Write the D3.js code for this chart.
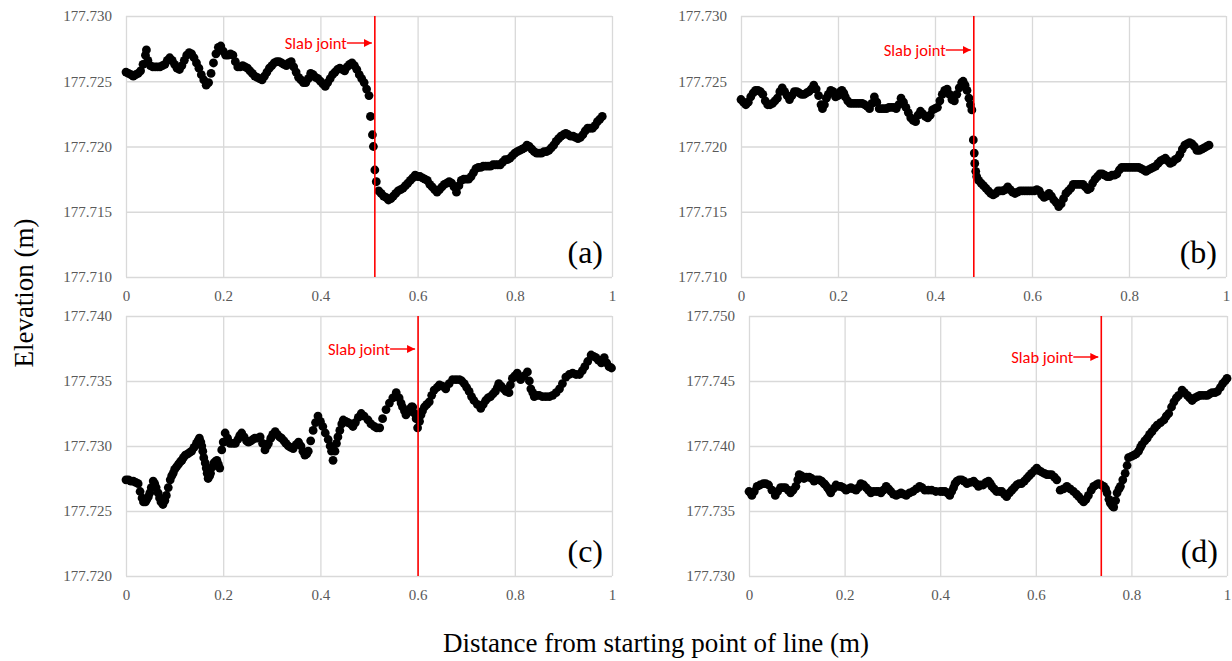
<!DOCTYPE html>
<html>
<head>
<meta charset="utf-8">
<script src="https://cdn.jsdelivr.net/npm/d3@7"></script>
<style>
	body { margin: 0; background: #fff; }
	svg { display: block; }
</style>
</head>
<body>
<div id="chart"></div>
<script>
// profile data: [distance (m), elevation (m)]
var profileA = [
	[0.000,177.7257],[0.005,177.7256],[0.010,177.7255],[0.015,177.7254],[0.020,177.7255],[0.025,177.7256],
	[0.030,177.7258],[0.035,177.7263],[0.040,177.7270],[0.042,177.7274],[0.045,177.7266],[0.050,177.7262],
	[0.055,177.7261],[0.060,177.7261],[0.065,177.7261],[0.070,177.7261],[0.075,177.7262],[0.080,177.7263],
	[0.085,177.7266],[0.090,177.7268],[0.095,177.7266],[0.100,177.7263],[0.105,177.7260],[0.110,177.7259],
	[0.115,177.7262],[0.120,177.7266],[0.125,177.7270],[0.130,177.7272],[0.135,177.7271],[0.140,177.7268],
	[0.145,177.7264],[0.150,177.7260],[0.155,177.7255],[0.160,177.7251],[0.165,177.7247],[0.170,177.7249],
	[0.175,177.7256],[0.180,177.7264],[0.185,177.7271],[0.190,177.7276],[0.195,177.7277],[0.200,177.7273],
	[0.205,177.7270],[0.210,177.7270],[0.215,177.7271],[0.220,177.7270],[0.225,177.7265],[0.230,177.7261],
	[0.235,177.7261],[0.240,177.7262],[0.245,177.7261],[0.250,177.7260],[0.255,177.7258],[0.260,177.7256],
	[0.265,177.7254],[0.270,177.7253],[0.275,177.7252],[0.280,177.7251],[0.285,177.7254],[0.290,177.7257],
	[0.295,177.7260],[0.300,177.7262],[0.305,177.7264],[0.310,177.7265],[0.315,177.7265],[0.320,177.7264],
	[0.325,177.7263],[0.330,177.7262],[0.335,177.7264],[0.340,177.7265],[0.345,177.7261],[0.350,177.7257],
	[0.355,177.7253],[0.360,177.7251],[0.365,177.7249],[0.370,177.7249],[0.375,177.7252],[0.380,177.7256],
	[0.385,177.7255],[0.390,177.7253],[0.395,177.7252],[0.400,177.7250],[0.405,177.7248],[0.410,177.7246],
	[0.415,177.7249],[0.420,177.7252],[0.425,177.7255],[0.430,177.7257],[0.435,177.7259],[0.440,177.7260],
	[0.445,177.7259],[0.450,177.7258],[0.455,177.7261],[0.460,177.7263],[0.465,177.7264],[0.470,177.7262],
	[0.475,177.7259],[0.480,177.7255],[0.485,177.7252],[0.490,177.7249],[0.495,177.7244],[0.500,177.7239],
	[0.503,177.7223],[0.507,177.7209],[0.509,177.7200],[0.512,177.7182],[0.515,177.7173],[0.520,177.7166],
	[0.525,177.7164],[0.530,177.7162],[0.535,177.7161],[0.540,177.7159],[0.545,177.7160],[0.550,177.7162],
	[0.555,177.7164],[0.560,177.7166],[0.565,177.7167],[0.570,177.7168],[0.575,177.7170],[0.580,177.7172],
	[0.585,177.7174],[0.590,177.7176],[0.595,177.7178],[0.600,177.7177],[0.605,177.7177],[0.610,177.7176],
	[0.615,177.7175],[0.620,177.7174],[0.625,177.7171],[0.630,177.7169],[0.635,177.7167],[0.640,177.7165],
	[0.645,177.7167],[0.650,177.7169],[0.655,177.7171],[0.660,177.7172],[0.665,177.7173],[0.670,177.7172],
	[0.675,177.7169],[0.680,177.7165],[0.685,177.7170],[0.690,177.7174],[0.695,177.7175],[0.700,177.7175],
	[0.705,177.7175],[0.710,177.7177],[0.715,177.7180],[0.720,177.7183],[0.725,177.7184],[0.730,177.7184],
	[0.735,177.7185],[0.740,177.7185],[0.745,177.7185],[0.750,177.7185],[0.755,177.7186],[0.760,177.7186],
	[0.765,177.7186],[0.770,177.7186],[0.775,177.7188],[0.780,177.7190],[0.785,177.7190],[0.790,177.7191],
	[0.795,177.7193],[0.800,177.7195],[0.805,177.7196],[0.810,177.7197],[0.815,177.7198],[0.820,177.7199],
	[0.825,177.7201],[0.830,177.7200],[0.835,177.7198],[0.840,177.7196],[0.845,177.7195],[0.850,177.7195],
	[0.855,177.7195],[0.860,177.7196],[0.865,177.7196],[0.870,177.7197],[0.875,177.7199],[0.880,177.7201],
	[0.885,177.7204],[0.890,177.7206],[0.895,177.7208],[0.900,177.7209],[0.905,177.7210],[0.910,177.7209],
	[0.915,177.7208],[0.920,177.7208],[0.925,177.7207],[0.930,177.7206],[0.935,177.7207],[0.940,177.7209],
	[0.945,177.7212],[0.950,177.7214],[0.955,177.7214],[0.960,177.7214],[0.965,177.7216],[0.970,177.7219],
	[0.975,177.7221],[0.980,177.7223]
];

var profileB = [
	[0.000,177.7236],[0.005,177.7234],[0.010,177.7232],[0.015,177.7234],[0.020,177.7238],[0.025,177.7241],
	[0.030,177.7243],[0.035,177.7243],[0.040,177.7242],[0.045,177.7240],[0.050,177.7235],[0.055,177.7232],
	[0.060,177.7232],[0.065,177.7233],[0.070,177.7235],[0.075,177.7237],[0.080,177.7242],[0.085,177.7245],
	[0.090,177.7242],[0.095,177.7239],[0.100,177.7236],[0.105,177.7239],[0.110,177.7242],[0.115,177.7242],
	[0.120,177.7241],[0.125,177.7240],[0.130,177.7240],[0.135,177.7241],[0.140,177.7242],[0.145,177.7244],
	[0.150,177.7247],[0.155,177.7244],[0.160,177.7239],[0.165,177.7232],[0.168,177.7229],[0.172,177.7232],
	[0.176,177.7237],[0.180,177.7240],[0.185,177.7243],[0.190,177.7242],[0.195,177.7238],[0.200,177.7239],
	[0.205,177.7242],[0.208,177.7243],[0.212,177.7241],[0.215,177.7238],[0.220,177.7235],[0.225,177.7233],
	[0.230,177.7233],[0.235,177.7233],[0.240,177.7233],[0.245,177.7233],[0.250,177.7233],[0.255,177.7232],
	[0.260,177.7231],[0.265,177.7229],[0.270,177.7233],[0.275,177.7238],[0.280,177.7234],[0.285,177.7229],
	[0.290,177.7229],[0.295,177.7229],[0.300,177.7229],[0.305,177.7230],[0.310,177.7230],[0.315,177.7230],
	[0.320,177.7229],[0.325,177.7232],[0.330,177.7237],[0.335,177.7234],[0.340,177.7230],[0.345,177.7226],
	[0.350,177.7222],[0.355,177.7220],[0.360,177.7219],[0.365,177.7224],[0.370,177.7227],[0.375,177.7225],
	[0.380,177.7223],[0.385,177.7222],[0.390,177.7224],[0.395,177.7228],[0.400,177.7229],[0.405,177.7230],
	[0.410,177.7235],[0.415,177.7240],[0.420,177.7243],[0.425,177.7244],[0.430,177.7240],[0.435,177.7236],
	[0.440,177.7235],[0.445,177.7240],[0.450,177.7245],[0.455,177.7249],[0.458,177.7250],[0.462,177.7247],
	[0.466,177.7243],[0.470,177.7237],[0.473,177.7232],[0.476,177.7228],[0.479,177.7205],[0.481,177.7195],
	[0.482,177.7187],[0.484,177.7181],[0.486,177.7177],[0.490,177.7174],[0.495,177.7172],[0.500,177.7170],
	[0.505,177.7168],[0.510,177.7166],[0.515,177.7164],[0.520,177.7163],[0.525,177.7164],[0.530,177.7166],
	[0.535,177.7166],[0.540,177.7166],[0.545,177.7167],[0.550,177.7169],[0.555,177.7167],[0.560,177.7165],
	[0.565,177.7164],[0.570,177.7165],[0.575,177.7166],[0.580,177.7166],[0.585,177.7166],[0.590,177.7166],
	[0.595,177.7166],[0.600,177.7166],[0.605,177.7166],[0.610,177.7167],[0.615,177.7166],[0.620,177.7163],
	[0.625,177.7161],[0.630,177.7162],[0.635,177.7164],[0.640,177.7162],[0.645,177.7159],[0.650,177.7157],
	[0.655,177.7154],[0.660,177.7156],[0.665,177.7160],[0.670,177.7164],[0.675,177.7166],[0.680,177.7168],
	[0.685,177.7171],[0.690,177.7171],[0.695,177.7171],[0.700,177.7171],[0.705,177.7171],[0.710,177.7169],
	[0.715,177.7167],[0.720,177.7168],[0.725,177.7172],[0.730,177.7175],[0.735,177.7177],[0.740,177.7179],
	[0.745,177.7179],[0.750,177.7178],[0.755,177.7177],[0.760,177.7177],[0.765,177.7178],[0.770,177.7178],
	[0.775,177.7179],[0.780,177.7182],[0.785,177.7184],[0.790,177.7184],[0.795,177.7184],[0.800,177.7184],
	[0.805,177.7184],[0.810,177.7184],[0.815,177.7184],[0.820,177.7184],[0.825,177.7183],[0.830,177.7182],
	[0.835,177.7181],[0.840,177.7182],[0.845,177.7183],[0.850,177.7184],[0.855,177.7185],[0.860,177.7187],
	[0.865,177.7189],[0.870,177.7190],[0.875,177.7191],[0.880,177.7189],[0.885,177.7187],[0.890,177.7188],
	[0.895,177.7190],[0.900,177.7191],[0.905,177.7194],[0.910,177.7198],[0.915,177.7201],[0.920,177.7202],
	[0.925,177.7203],[0.930,177.7202],[0.935,177.7200],[0.940,177.7197],[0.945,177.7197],[0.950,177.7198],
	[0.955,177.7199],[0.960,177.7200],[0.965,177.7201]
];

var profileC = [
	[0.000,177.7274],[0.005,177.7274],[0.010,177.7273],[0.015,177.7273],[0.020,177.7272],[0.025,177.7271],
	[0.029,177.7265],[0.033,177.7260],[0.036,177.7257],[0.040,177.7257],[0.043,177.7259],[0.046,177.7261],
	[0.049,177.7264],[0.052,177.7268],[0.056,177.7273],[0.059,177.7271],[0.062,177.7268],[0.066,177.7264],
	[0.069,177.7260],[0.072,177.7257],[0.076,177.7255],[0.080,177.7258],[0.083,177.7262],[0.087,177.7268],
	[0.091,177.7274],[0.094,177.7277],[0.097,177.7279],[0.100,177.7282],[0.104,177.7284],[0.108,177.7286],
	[0.112,177.7288],[0.115,177.7289],[0.118,177.7291],[0.122,177.7293],[0.127,177.7294],[0.131,177.7295],
	[0.135,177.7296],[0.140,177.7299],[0.145,177.7302],[0.148,177.7304],[0.151,177.7306],[0.154,177.7303],
	[0.156,177.7300],[0.158,177.7296],[0.160,177.7291],[0.163,177.7287],[0.165,177.7283],[0.167,177.7279],
	[0.169,177.7275],[0.172,177.7277],[0.174,177.7279],[0.178,177.7284],[0.181,177.7287],[0.184,177.7288],
	[0.187,177.7289],[0.190,177.7286],[0.193,177.7283],[0.197,177.7297],[0.200,177.7303],[0.204,177.7310],
	[0.209,177.7306],[0.214,177.7302],[0.220,177.7302],[0.225,177.7302],[0.230,177.7305],[0.234,177.7308],
	[0.238,177.7310],[0.243,177.7307],[0.248,177.7304],[0.252,177.7303],[0.257,177.7304],[0.261,177.7305],
	[0.265,177.7306],[0.270,177.7306],[0.276,177.7307],[0.281,177.7302],[0.286,177.7297],[0.290,177.7300],
	[0.293,177.7302],[0.298,177.7306],[0.302,177.7309],[0.307,177.7311],[0.311,177.7309],[0.316,177.7307],
	[0.320,177.7306],[0.325,177.7304],[0.329,177.7302],[0.334,177.7300],[0.339,177.7299],[0.344,177.7298],
	[0.350,177.7301],[0.355,177.7303],[0.360,177.7300],[0.364,177.7296],[0.368,177.7293],[0.372,177.7294],
	[0.375,177.7296],[0.380,177.7304],[0.385,177.7312],[0.390,177.7318],[0.395,177.7323],[0.400,177.7319],
	[0.405,177.7315],[0.410,177.7310],[0.416,177.7305],[0.420,177.7300],[0.423,177.7296],[0.426,177.7289],
	[0.430,177.7296],[0.433,177.7302],[0.436,177.7307],[0.440,177.7312],[0.444,177.7317],[0.447,177.7320],
	[0.452,177.7319],[0.457,177.7318],[0.462,177.7317],[0.467,177.7315],[0.472,177.7318],[0.478,177.7322],
	[0.484,177.7325],[0.490,177.7323],[0.498,177.7320],[0.504,177.7317],[0.511,177.7315],[0.516,177.7314],
	[0.522,177.7314],[0.528,177.7321],[0.535,177.7328],[0.542,177.7333],[0.549,177.7337],[0.556,177.7341],
	[0.562,177.7337],[0.566,177.7333],[0.569,177.7330],[0.573,177.7327],[0.576,177.7324],[0.580,177.7326],
	[0.583,177.7328],[0.587,177.7330],[0.590,177.7330],[0.594,177.7325],[0.597,177.7321],[0.600,177.7314],
	[0.604,177.7319],[0.607,177.7324],[0.610,177.7327],[0.614,177.7330],[0.619,177.7332],[0.624,177.7334],
	[0.629,177.7339],[0.634,177.7343],[0.640,177.7345],[0.645,177.7347],[0.651,177.7346],[0.658,177.7344],
	[0.665,177.7348],[0.672,177.7351],[0.679,177.7351],[0.686,177.7351],[0.691,177.7350],[0.696,177.7348],
	[0.701,177.7345],[0.706,177.7342],[0.711,177.7338],[0.716,177.7335],[0.723,177.7332],[0.730,177.7329],
	[0.735,177.7332],[0.740,177.7335],[0.745,177.7337],[0.750,177.7338],[0.755,177.7340],[0.760,177.7342],
	[0.764,177.7345],[0.767,177.7348],[0.772,177.7346],[0.777,177.7344],[0.782,177.7342],[0.788,177.7341],
	[0.791,177.7347],[0.795,177.7352],[0.800,177.7354],[0.805,177.7356],[0.809,177.7353],[0.812,177.7351],
	[0.819,177.7354],[0.826,177.7357],[0.830,177.7350],[0.833,177.7344],[0.837,177.7341],[0.840,177.7338],
	[0.845,177.7339],[0.850,177.7339],[0.857,177.7338],[0.864,177.7338],[0.871,177.7338],[0.878,177.7339],
	[0.885,177.7341],[0.892,177.7344],[0.898,177.7348],[0.905,177.7353],[0.912,177.7355],[0.919,177.7356],
	[0.926,177.7355],[0.933,177.7355],[0.939,177.7358],[0.944,177.7361],[0.950,177.7365],[0.957,177.7370],
	[0.962,177.7369],[0.967,177.7368],[0.972,177.7366],[0.978,177.7364],[0.981,177.7366],[0.984,177.7368],
	[0.989,177.7364],[0.994,177.7361],[0.999,177.7360]
];

var profileD = [
	[0.000,177.7365],[0.003,177.7364],[0.006,177.7362],[0.011,177.7365],[0.017,177.7369],[0.023,177.7370],
	[0.030,177.7371],[0.035,177.7371],[0.041,177.7370],[0.048,177.7366],[0.055,177.7362],[0.060,177.7365],
	[0.066,177.7368],[0.071,177.7368],[0.076,177.7368],[0.082,177.7366],[0.087,177.7364],[0.092,177.7366],
	[0.098,177.7369],[0.102,177.7374],[0.105,177.7378],[0.110,177.7377],[0.115,177.7375],[0.120,177.7376],
	[0.126,177.7376],[0.131,177.7375],[0.136,177.7373],[0.141,177.7374],[0.147,177.7374],[0.152,177.7373],
	[0.157,177.7371],[0.160,177.7370],[0.164,177.7368],[0.168,177.7366],[0.171,177.7364],[0.176,177.7367],
	[0.182,177.7370],[0.187,177.7369],[0.192,177.7369],[0.197,177.7368],[0.203,177.7366],[0.208,177.7367],
	[0.213,177.7368],[0.218,177.7367],[0.224,177.7366],[0.229,177.7368],[0.234,177.7371],[0.240,177.7370],
	[0.245,177.7368],[0.250,177.7366],[0.255,177.7364],[0.260,177.7365],[0.266,177.7365],[0.271,177.7365],
	[0.276,177.7364],[0.281,177.7366],[0.287,177.7369],[0.292,177.7367],[0.297,177.7365],[0.302,177.7363],
	[0.308,177.7362],[0.313,177.7363],[0.318,177.7364],[0.323,177.7363],[0.329,177.7362],[0.336,177.7364],
	[0.343,177.7365],[0.350,177.7367],[0.357,177.7369],[0.362,177.7368],[0.368,177.7366],[0.375,177.7366],
	[0.382,177.7366],[0.391,177.7365],[0.400,177.7365],[0.405,177.7365],[0.410,177.7365],[0.415,177.7364],
	[0.420,177.7362],[0.424,177.7365],[0.428,177.7368],[0.431,177.7371],[0.435,177.7373],[0.440,177.7374],
	[0.445,177.7374],[0.450,177.7373],[0.456,177.7371],[0.463,177.7372],[0.470,177.7373],[0.475,177.7371],
	[0.480,177.7369],[0.485,177.7370],[0.490,177.7370],[0.496,177.7372],[0.501,177.7373],[0.505,177.7371],
	[0.508,177.7369],[0.513,177.7367],[0.518,177.7365],[0.524,177.7365],[0.529,177.7365],[0.534,177.7363],
	[0.539,177.7361],[0.545,177.7364],[0.550,177.7366],[0.555,177.7368],[0.560,177.7370],[0.565,177.7371],
	[0.570,177.7371],[0.576,177.7373],[0.581,177.7375],[0.586,177.7377],[0.591,177.7379],[0.597,177.7381],
	[0.602,177.7383],[0.607,177.7381],[0.612,177.7380],[0.618,177.7379],[0.623,177.7378],[0.628,177.7378],
	[0.633,177.7378],[0.639,177.7376],[0.644,177.7374],[0.651,177.7366],[0.658,177.7367],[0.665,177.7369],
	[0.672,177.7367],[0.679,177.7365],[0.685,177.7363],[0.690,177.7361],[0.695,177.7359],[0.700,177.7357],
	[0.705,177.7359],[0.710,177.7362],[0.716,177.7366],[0.721,177.7369],[0.726,177.7370],[0.731,177.7371],
	[0.737,177.7370],[0.742,177.7369],[0.746,177.7367],[0.749,177.7364],[0.753,177.7359],[0.756,177.7356],
	[0.760,177.7354],[0.763,177.7353],[0.767,177.7358],[0.770,177.7364],[0.774,177.7367],[0.777,177.7369],
	[0.782,177.7374],[0.787,177.7379],[0.791,177.7385],[0.794,177.7391],[0.800,177.7392],[0.805,177.7393],
	[0.810,177.7394],[0.815,177.7396],[0.819,177.7399],[0.822,177.7401],[0.828,177.7404],[0.833,177.7406],
	[0.838,177.7409],[0.843,177.7411],[0.849,177.7414],[0.854,177.7416],[0.861,177.7418],[0.868,177.7420],
	[0.873,177.7423],[0.878,177.7425],[0.884,177.7430],[0.889,177.7434],[0.894,177.7437],[0.899,177.7439],
	[0.906,177.7443],[0.911,177.7441],[0.917,177.7439],[0.922,177.7437],[0.927,177.7435],[0.933,177.7437],
	[0.938,177.7438],[0.943,177.7439],[0.948,177.7439],[0.954,177.7439],[0.959,177.7439],[0.964,177.7440],
	[0.969,177.7441],[0.975,177.7441],[0.980,177.7442],[0.986,177.7445],[0.991,177.7448],[0.996,177.7450],
	[1.000,177.7452]
];

// slab joint positions (m)
var jointX = [0.512, 0.480, 0.601, 0.737];

var xTicks = [0, 0.2, 0.4, 0.6, 0.8, 1];
var yTicksA = [177.710, 177.715, 177.720, 177.725, 177.730];
var yTicksB = [177.710, 177.715, 177.720, 177.725, 177.730];
var yTicksC = [177.720, 177.725, 177.730, 177.735, 177.740];
var yTicksD = [177.730, 177.735, 177.740, 177.745, 177.750];

var panelLabels = ["(a)", "(b)", "(c)", "(d)"];

var width = 1232;
var height = 661;

var gridColor = "#d9d9d9";
var serif = "'Liberation Serif', 'Times New Roman', Times, serif";

// panel boxes in page pixels
var panels = [
	{ left: 126, top: 16,  w: 486, h: 261, data: profileA, yTicks: yTicksA, joint: jointX[0], label: panelLabels[0], note: 27 },
	{ left: 741, top: 16,  w: 485, h: 261, data: profileB, yTicks: yTicksB, joint: jointX[1], label: panelLabels[1], note: 34 },
	{ left: 126, top: 316, w: 486, h: 260, data: profileC, yTicks: yTicksC, joint: jointX[2], label: panelLabels[2], note: 33 },
	{ left: 749, top: 316, w: 478, h: 260, data: profileD, yTicks: yTicksD, joint: jointX[3], label: panelLabels[3], note: 41 }
];

var svg = d3.select("#chart").append("svg")
	.attr("width", width)
	.attr("height", height);

svg.append("defs").append("marker")
	.attr("id", "arrow")
	.attr("viewBox", "0 0 10 10")
	.attr("refX", 10)
	.attr("refY", 5)
	.attr("markerWidth", 8)
	.attr("markerHeight", 8)
	.attr("markerUnits", "userSpaceOnUse")
	.attr("orient", "auto")
	.append("path")
	.attr("d", "M0,0L10,5L0,10Z")
	.attr("fill", "#ff0000");

panels.forEach(function(p) {
	var g = svg.append("g")
		.attr("transform", `translate(${p.left},${p.top})`);

	var x = d3.scaleLinear([0, 1], [0, p.w]);
	var y = d3.scaleLinear(d3.extent(p.yTicks), [p.h, 0]);

	// vertical grid + x labels
	var xAxis = g.append("g")
		.attr("transform", `translate(0,${p.h})`)
		.call(d3.axisBottom(x)
			.tickValues(xTicks)
			.tickFormat(d3.format(""))
			.tickSizeInner(-p.h)
			.tickSizeOuter(0)
			.tickPadding(13));
	xAxis.select(".domain").remove();

	// horizontal grid + y labels
	var yAxis = g.append("g")
		.call(d3.axisLeft(y)
			.tickValues(p.yTicks)
			.tickFormat(d3.format(".3f"))
			.tickSizeInner(-p.w)
			.tickSizeOuter(0)
			.tickPadding(14));
	yAxis.select(".domain").remove();

	g.selectAll(".tick line")
		.attr("stroke", gridColor)
		.attr("stroke-width", 1.3);
	g.selectAll(".tick text")
		.attr("fill", "#595959")
		.style("font", `15px ${serif}`);

	// points
	g.append("g")
		.selectAll("circle")
		.data(p.data)
		.join("circle")
		.attr("cx", d => x(d[0]))
		.attr("cy", d => y(d[1]))
		.attr("r", 4.4)
		.attr("fill", "#000");

	// slab joint line
	var jx = x(p.joint);
	g.append("line")
		.attr("x1", jx).attr("x2", jx)
		.attr("y1", 0).attr("y2", p.h)
		.attr("stroke", "#ff0000")
		.attr("stroke-width", 1.6);

	g.append("line")
		.attr("x1", jx - 28).attr("x2", jx - 3)
		.attr("y1", p.note).attr("y2", p.note)
		.attr("stroke", "#ff0000")
		.attr("stroke-width", 1.4)
		.attr("marker-end", "url(#arrow)");

	g.append("text")
		.attr("x", jx - 28)
		.attr("y", p.note)
		.attr("dy", "0.35em")
		.attr("text-anchor", "end")
		.attr("fill", "#ff0000")
		.style("font", "16.5px Carlito, Lato, 'Open Sans', sans-serif")
		.text("Slab joint");

	g.append("text")
		.attr("x", p.w - 9)
		.attr("y", p.h - 14)
		.attr("text-anchor", "end")
		.style("font", `32px ${serif}`)
		.text(p.label);
});

svg.append("text")
	.attr("transform", "translate(33,293) rotate(-90)")
	.attr("text-anchor", "middle")
	.style("font", `27px ${serif}`)
	.text("Elevation (m)");

svg.append("text")
	.attr("x", 656)
	.attr("y", 652)
	.attr("text-anchor", "middle")
	.style("font", `27px ${serif}`)
	.text("Distance from starting point of line (m)");
</script>
</body>
</html>
